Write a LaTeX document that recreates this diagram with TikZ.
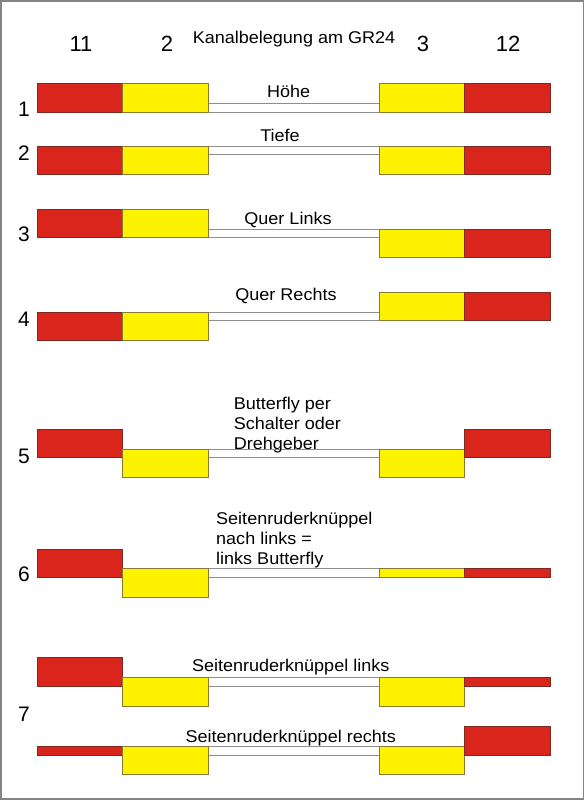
\documentclass[tikz,border=0pt]{standalone}
\usepackage{fontspec}
\setmainfont{Liberation Sans}
\newfontfamily\widefont[FakeStretch=1.06]{Liberation Sans}
\definecolor{boxred}{HTML}{DA251D}
\definecolor{boxyellow}{HTML}{FFF200}
\definecolor{redline}{HTML}{7A2A20}
\definecolor{yelline}{HTML}{8A7A30}
\definecolor{barline}{HTML}{8E8E8E}
\definecolor{framegray}{HTML}{858585}
\tikzset{
  redbox/.style={fill=boxred, draw=redline, line width=0.8pt},
  yelbox/.style={fill=boxyellow, draw=yelline, line width=0.8pt},
  barbox/.style={fill=white, draw=barline, line width=1pt},
  head/.style={font=\fontsize{22}{26}\selectfont, anchor=base, inner sep=0pt},
  title/.style={font=\widefont\fontsize{17}{20}\selectfont, anchor=base, inner sep=0pt},
  rownum/.style={font=\fontsize{21}{25}\selectfont, anchor=base, inner sep=0pt},
  lab/.style={font=\widefont\fontsize{17}{20}\selectfont, anchor=base, inner sep=0pt},
  labblock/.style={font=\widefont\fontsize{17}{20}\selectfont, anchor=north west, inner sep=0pt, align=left}
}
\begin{document}
\begin{tikzpicture}[x=1pt,y=-1pt]
\useasboundingbox (0,0) rectangle (586,800);
\fill[white] (0,0) rectangle (586,800);
\draw[framegray, line width=1.5pt] (1,1) rectangle (583.5,799);

% header
\node[head] (h11) at (81,52) {11};
\node[head] (h2) at (167,52) {2};
\node[title] (ttl) at (294,44) {Kanalbelegung am GR24};
\node[head] (h3) at (423,52) {3};
\node[head] (h12) at (508,52) {12};

% row numbers
\node[rownum] (n1) at (24,116.7) {1};
\node[rownum] (n2) at (24,160) {2};
\node[rownum] (n3) at (24,241.7) {3};
\node[rownum] (n4) at (24,326.7) {4};
\node[rownum] (n5) at (24,463) {5};
\node[rownum] (n6) at (24,581.7) {6};
\node[rownum] (n7) at (24,721.7) {7};

% row 1
\draw[barbox] (208,103.7) rectangle (379,112.3);
\draw[redbox] (37.3,83.7) rectangle (122.7,112.3);
\draw[yelbox] (122.7,83.7) rectangle (208,112.3);
\draw[yelbox] (379,83.7) rectangle (464,112.3);
\draw[redbox] (464,83.7) rectangle (550,112.3);
\node[lab] (l1) at (288.7,97.3) {Höhe};

% row 2
\draw[barbox] (208,146) rectangle (379,154.7);
\draw[redbox] (37.3,146) rectangle (122.7,174.7);
\draw[yelbox] (122.7,146) rectangle (208,174.7);
\draw[yelbox] (379,146) rectangle (464,174.7);
\draw[redbox] (464,146) rectangle (550,174.7);
\node[lab] (l2) at (280,141.7) {Tiefe};

% row 3
\draw[barbox] (208,229.3) rectangle (379,237.7);
\draw[redbox] (37.3,209.3) rectangle (122.7,237.7);
\draw[yelbox] (122.7,209.3) rectangle (208,237.7);
\draw[yelbox] (379,229.3) rectangle (464,257.7);
\draw[redbox] (464,229.3) rectangle (550,257.7);
\node[lab] (l3) at (288,224.3) {Quer Links};

% row 4
\draw[barbox] (208,312.3) rectangle (379,320.3);
\draw[redbox] (37.3,312.3) rectangle (122.7,340.7);
\draw[yelbox] (122.7,312.3) rectangle (208,340.7);
\draw[yelbox] (379,292.3) rectangle (464,320.3);
\draw[redbox] (464,292.3) rectangle (550,320.3);
\node[lab] (l4) at (286,300) {Quer Rechts};

% row 5
\draw[barbox] (208,449.3) rectangle (379,457.7);
\draw[redbox] (37.3,429.3) rectangle (122.7,457.7);
\draw[yelbox] (122.7,449.3) rectangle (208,477.3);
\draw[yelbox] (379,449.3) rectangle (464,477.3);
\draw[redbox] (464,429.3) rectangle (550,457.7);
\node[labblock] (l5) at (233.6,396.7) {Butterfly per\\Schalter oder\\Drehgeber};

% row 6
\draw[barbox] (208,568.7) rectangle (379,577);
\draw[redbox] (37.3,549) rectangle (122.7,577);
\draw[yelbox] (122.7,568.7) rectangle (208,597);
\draw[yelbox] (379,568.7) rectangle (464,577);
\draw[redbox] (464,568.7) rectangle (550,577);
\node[labblock] (l6) at (216,512.3) {Seitenruderknüppel\\nach links =\\links Butterfly};

% row 7a
\draw[barbox] (208,677.7) rectangle (379,686.3);
\draw[redbox] (37.3,657.7) rectangle (122.7,686.3);
\draw[yelbox] (122.7,677.7) rectangle (208,706);
\draw[yelbox] (379,677.7) rectangle (464,706);
\draw[redbox] (464,677.7) rectangle (550,686.3);
\node[lab] (l7a) at (290.7,671.7) {Seitenruderknüppel links};

% row 7b
\draw[barbox] (208,746.7) rectangle (379,755.3);
\draw[redbox] (37.3,746.7) rectangle (122.7,755.3);
\draw[yelbox] (122.7,746.7) rectangle (208,774.7);
\draw[yelbox] (379,746.7) rectangle (464,774.7);
\draw[redbox] (464,726.7) rectangle (550,755.3);
\node[lab] (l7b) at (290.7,742.3) {Seitenruderknüppel rechts};
\end{tikzpicture}
\end{document}
